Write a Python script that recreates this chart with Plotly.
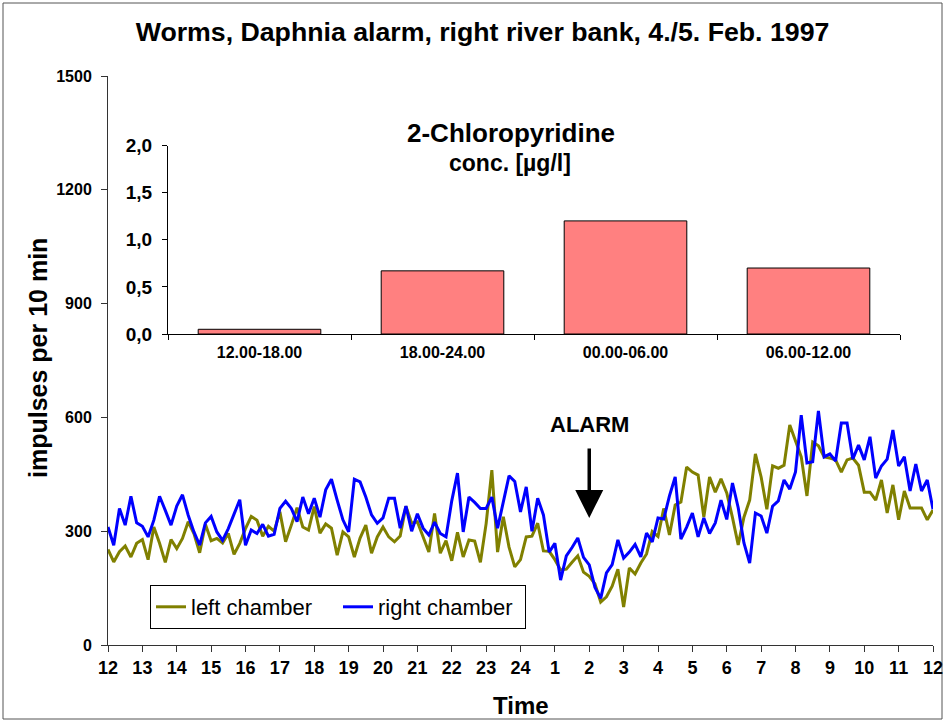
import plotly.graph_objects as go

# ---- data ----
hour_labels = ["12", "13", "14", "15", "16", "17", "18", "19", "20", "21", "22", "23", "24",
               "1", "2", "3", "4", "5", "6", "7", "8", "9", "10", "11", "12"]

left_chamber = [
    252, 219, 246, 261, 232, 268, 278, 225, 311, 268, 218, 278, 254, 281, 325, 294, 243, 318, 275, 281,
    269, 294, 239, 268, 307, 339, 329, 287, 313, 300, 351, 272, 316, 362, 311, 303, 365, 295, 319, 308,
    237, 298, 285, 232, 282, 316, 242, 285, 311, 285, 272, 287, 366, 321, 325, 285, 245, 347, 242, 275,
    222, 297, 232, 277, 274, 218, 320, 461, 245, 338, 258, 206, 225, 285, 287, 321, 248, 247, 225, 198,
    200, 218, 235, 192, 181, 161, 113, 127, 155, 200, 100, 203, 187, 216, 240, 299, 286, 360, 290, 369,
    377, 469, 456, 448, 337, 443, 403, 438, 401, 336, 264, 337, 382, 504, 443, 358, 472, 466, 474, 580,
    540, 496, 393, 535, 525, 496, 493, 488, 456, 488, 493, 474, 403, 403, 382, 435, 348, 422, 330, 406,
    361, 361, 361, 330, 356,
]

right_chamber = [
    311, 263, 360, 316, 392, 322, 313, 285, 329, 392, 355, 316, 366, 396, 342, 298, 263, 322, 339, 298,
    276, 307, 345, 383, 263, 303, 294, 318, 287, 292, 360, 379, 360, 325, 390, 346, 387, 337, 409, 437,
    382, 330, 298, 437, 430, 390, 343, 321, 335, 387, 387, 308, 366, 300, 346, 308, 290, 324, 294, 285,
    380, 453, 298, 390, 376, 360, 360, 390, 308, 380, 446, 431, 351, 417, 300, 387, 343, 245, 268, 171,
    235, 257, 282, 231, 211, 152, 123, 190, 212, 277, 229, 245, 265, 232, 295, 272, 335, 332, 393, 443,
    279, 311, 348, 285, 335, 294, 322, 382, 331, 427, 362, 269, 216, 348, 340, 295, 366, 380, 435, 411,
    456, 606, 480, 483, 617, 496, 504, 485, 585, 585, 490, 527, 488, 549, 440, 472, 490, 567, 472, 496,
    406, 477, 406, 435, 358,
]

# time in hours since 12:00 (10-minute readings)
time_hours = [i / 6 for i in range(len(left_chamber))]

conc_periods = ["12.00-18.00", "18.00-24.00", "00.00-06.00", "06.00-12.00"]
conc_values = [0.05, 0.67, 1.20, 0.70]
conc_ticks = [0.0, 0.5, 1.0, 1.5, 2.0]
conc_ticktext = ["0,0", "0,5", "1,0", "1,5", "2,0"]

y_ticks = [0, 300, 600, 900, 1200, 1500]

FONT = "Arial, Liberation Sans, sans-serif"

# plot-area pixel geometry helpers (paper coords)
L, R, T, B = 108, 933, 76, 645
def px(xp):
    return (xp - L) / (R - L)
def py(yp):
    return (B - yp) / (B - T)

fig = go.Figure()

fig.add_trace(go.Scatter(x=time_hours, y=left_chamber, mode="lines", name="left chamber",
                         line=dict(color="#808000", width=3)))
fig.add_trace(go.Scatter(x=time_hours, y=right_chamber, mode="lines", name="right chamber",
                         line=dict(color="#0000FF", width=3)))

fig.add_trace(go.Bar(x=conc_periods, y=conc_values, xaxis="x2", yaxis="y2", width=0.67,
                     marker=dict(color="#FF8080", line=dict(color="black", width=1)),
                     showlegend=False))

axis_col = "#333333"

fig.update_layout(
    width=945, height=721,
    margin=dict(l=L, r=945 - R, t=T, b=721 - B),
    paper_bgcolor="white", plot_bgcolor="white",
    font=dict(family=FONT, color="black"),
    title=dict(text="<b>Worms, Daphnia alarm, right river bank, 4./5. Feb. 1997</b>",
               x=0.5106, xanchor="center", y=1 - 32 / 721, yanchor="middle", yref="container",
               automargin=False, font=dict(size=26.7, family=FONT, color="black")),
    xaxis=dict(range=[0, 24], tickvals=list(range(25)), ticktext=hour_labels, automargin=False,
               ticks="outside", ticklen=6, tickcolor=axis_col, showline=True, linecolor=axis_col,
               linewidth=1, showgrid=False, zeroline=False,
               tickfont=dict(size=18, weight="bold")),
    yaxis=dict(range=[0, 1500], tickvals=y_ticks, ticks="outside", ticklen=6, tickcolor=axis_col,
               showline=True, linecolor=axis_col, linewidth=1, showgrid=False, zeroline=False,
               automargin=False, tickfont=dict(size=16, weight="bold"), ticklabelstandoff=6),
    xaxis3=dict(overlaying="x", matches="x", anchor="y", range=[0, 24], tickvals=list(range(25)),
                ticks="inside", ticklen=6, tickcolor=axis_col, showticklabels=False,
                showline=False, showgrid=False, zeroline=False, automargin=False),
    yaxis3=dict(overlaying="y", matches="y", anchor="x", range=[0, 1500], tickvals=y_ticks,
                ticks="inside", ticklen=6, tickcolor=axis_col, showticklabels=False,
                showline=False, showgrid=False, zeroline=False, automargin=False),
    xaxis2=dict(domain=[px(168), px(900)], anchor="y2", type="category", tickson="boundaries",
                ticks="outside", ticklen=5, tickcolor="black", showline=True, linecolor="black",
                linewidth=1, showgrid=False, range=[-0.5, 3.5], automargin=False,
                tickfont=dict(size=16, weight="bold"), ticklabelstandoff=4),
    yaxis2=dict(domain=[py(334), py(145.5)], anchor="x2", range=[0, 2.0], tickvals=conc_ticks,
                ticktext=conc_ticktext, ticks="outside", ticklen=5, tickcolor="black",
                showline=True, linecolor="black", linewidth=1, showgrid=False, zeroline=False,
                automargin=False, tickfont=dict(size=19, weight="bold"), ticklabelstandoff=6),
    legend=dict(x=px(150), y=py(585), xanchor="left", yanchor="top", orientation="h",
                bordercolor="black", borderwidth=1, bgcolor="white",
                entrywidth=142, entrywidthmode="pixels",
                font=dict(size=22, family=FONT)),
    annotations=[
        dict(text="<b>Time</b>", xref="paper", yref="paper", x=px(521), y=py(705),
             xanchor="center", yanchor="middle", showarrow=False, font=dict(size=24)),
        dict(text="<b>impulses per 10 min</b>", xref="paper", yref="paper", x=px(38), y=py(358),
             xanchor="center", yanchor="middle", textangle=-90, showarrow=False,
             font=dict(size=25)),
        dict(text="<b>2-Chloropyridine</b>", xref="paper", yref="paper",
             x=px(511), y=py(133), xanchor="center", yanchor="middle",
             showarrow=False, font=dict(size=26)),
        dict(text="<b>conc. [µg/l]</b>", xref="paper", yref="paper",
             x=px(510), y=py(163), xanchor="center", yanchor="middle",
             showarrow=False, font=dict(size=23)),
        dict(text="<b>ALARM</b>", xref="x", yref="y", x=14, y=580, xanchor="center",
             yanchor="middle", showarrow=False, font=dict(size=22)),
        dict(text="", xref="x", yref="y", x=14, y=335, ax=14, ay=522, axref="x", ayref="y",
             showarrow=True, arrowhead=2, arrowsize=1.6, arrowwidth=3.5, arrowcolor="black"),
    ],
    shapes=[
        dict(type="rect", xref="paper", yref="paper",
             x0=px(3), x1=px(942), y0=py(719), y1=py(3),
             line=dict(color="#555555", width=1), fillcolor="rgba(0,0,0,0)", layer="below"),
    ],
)

fig.write_html("out.html", config={"displayModeBar": False},
               post_script="document.body.style.margin='0';")
